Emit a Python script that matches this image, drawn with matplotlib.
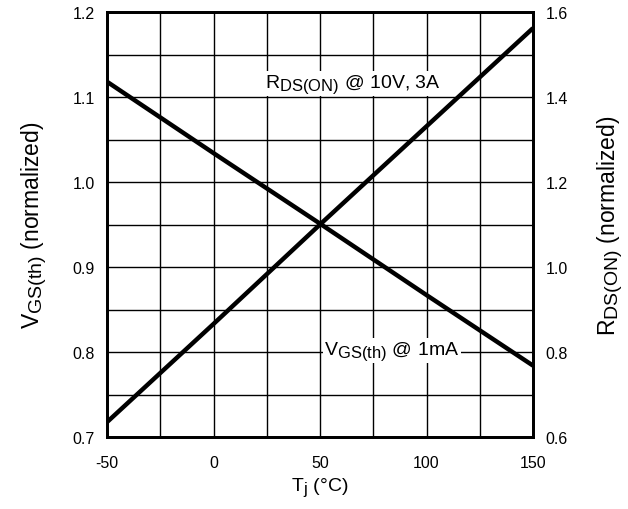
import matplotlib
matplotlib.use('Agg')
import matplotlib.pyplot as plt
import matplotlib._mathtext as mtext
import numpy as np

plt.rcParams['font.family'] = ['Liberation Sans', 'DejaVu Sans']
plt.rcParams['mathtext.fontset'] = 'custom'
plt.rcParams['mathtext.rm'] = 'Liberation Sans'
plt.rcParams['mathtext.it'] = 'Liberation Sans'
# datasheet-style subscripts are only a little smaller than the main text
mtext.SHRINK_FACTOR = 0.85

# junction temperature (deg C)
tj = [-50, 0, 50, 100, 150]
# VGS(th) normalized (left axis)
vgs_th = [1.118, 1.034, 0.951, 0.867, 0.784]
# RDS(ON) normalized (right axis)
rds_on = [0.635, 0.866, 1.100, 1.331, 1.562]

x_ticks = [-50, 0, 50, 100, 150]
left_ticks = [0.7, 0.8, 0.9, 1.0, 1.1, 1.2]
right_ticks = [0.6, 0.8, 1.0, 1.2, 1.4, 1.6]

fig = plt.figure(figsize=(6.28, 5.10), dpi=100)
ax = fig.add_axes([107 / 628, 72 / 510, 426 / 628, 425 / 510])

ax.set_xlim(-50, 150)
ax.set_ylim(0.7, 1.2)
ax.set_xticks(x_ticks)
ax.set_xticklabels(['-50', '0', '50', '100', '150'])
ax.set_yticks(left_ticks)
ax.set_yticklabels(['%.1f' % v for v in left_ticks])
ax.set_xticks(np.arange(-50, 151, 25), minor=True)
ax.set_yticks(np.arange(0.7, 1.2001, 0.05), minor=True)
ax.grid(which='both', color='black', linewidth=1.0)
ax.tick_params(which='both', length=0, labelsize=11.5)
ax.tick_params(axis='y', pad=9)
ax.tick_params(axis='x', pad=13)
for s in ax.spines.values():
    s.set_linewidth(2)

ax.plot(tj, vgs_th, color='black', linewidth=3.2, solid_capstyle='butt', zorder=3)

ax2 = ax.twinx()
ax2.set_ylim(0.6, 1.6)
ax2.set_yticks(right_ticks)
ax2.set_yticklabels(['%.1f' % v for v in right_ticks])
ax2.tick_params(length=0, labelsize=11.5, pad=9)
ax2.plot(tj, rds_on, color='black', linewidth=3.2, solid_capstyle='butt', zorder=3)
for s in ax2.spines.values():
    s.set_linewidth(2)

ax.text(65.5, 1.1118, r'$\mathregular{R_{DS(ON)}}$ @ 10V, 3A', fontsize=14,
        ha='center', va='baseline', zorder=4,
        bbox=dict(facecolor='white', edgecolor='none', pad=1))
ax.text(83.8, 0.7976, r'$\mathregular{V_{GS(th)}}$ @ 1mA', fontsize=14,
        ha='center', va='baseline', zorder=4,
        bbox=dict(facecolor='white', edgecolor='none', pad=1))

ax.set_xlabel(r'$\mathregular{T_j}$ (°C)', fontsize=14, labelpad=4)
ax.set_ylabel(r'$\mathregular{V_{GS(th)}}$ (normalized)', fontsize=16.5, labelpad=17)
ax2.set_ylabel(r'$\mathregular{R_{DS(ON)}}$ (normalized)', fontsize=16.5, labelpad=20)

fig.savefig('out.png', dpi=100)
